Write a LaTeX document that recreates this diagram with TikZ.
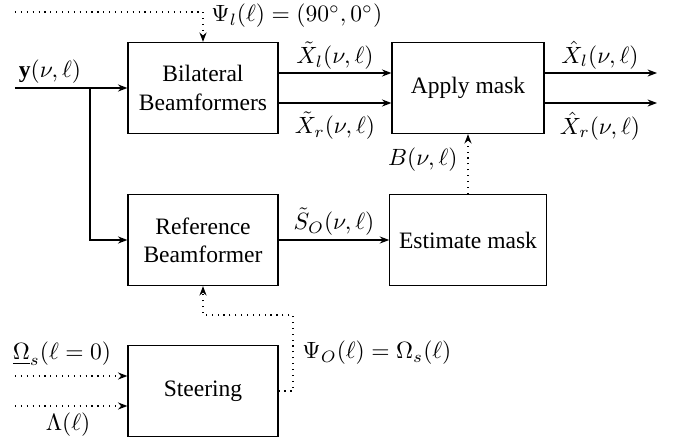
\documentclass[tikz,border=0pt]{standalone}
\usepackage{fontspec}
\setmainfont{Liberation Serif}
\usetikzlibrary{arrows.meta,calc}
\begin{document}
\begin{tikzpicture}[x=0.425pt,y=-0.425pt,
  blk/.style={draw, line width=0.5pt, align=center, inner sep=0pt, minimum width=63.75pt, minimum height=38.7pt},
  >={Stealth[length=4pt,width=3pt]},
  sig/.style={->, line width=0.5pt},
  ctl/.style={->, dotted, line width=0.5pt},
  thk/.style={->, line width=1pt},
  lbl/.style={inner sep=0pt}]
\useasboundingbox (0,0) rectangle (678,445);
% blocks
\node[blk] (bil) at (203,88) {Bilateral\\Beamformers};
\node[blk, minimum width=64.6pt] (app) at (468,88) {Apply mask};
\node[blk] (ref) at (203,240) {Reference\\Beamformer};
\node[blk, minimum width=66.5pt] (est) at (468,240) {Estimate mask};
\node[blk] (ste) at (203,391) {Steering};
% coordinates
\coordinate (psil) at (15,12);
\coordinate (yin) at (15,88);
\coordinate (br) at (90,88);
\coordinate (outl) at (657,73);
\coordinate (outr) at (657,103);
\coordinate (om) at (15,376);
\coordinate (la) at (15,406);
\coordinate (psio) at (293,315);
% connectors
\draw[ctl] (psil) -- (bil.north |- psil) -- (bil.north);
\draw[thk] (yin) -- (bil.west);
\draw[thk] (br) |- (ref.west);
\draw[sig] ($(bil.east)+(0,-15)$) -- ($(app.west)+(0,-15)$);
\draw[sig] ($(bil.east)+(0,15)$) -- ($(app.west)+(0,15)$);
\draw[sig] ($(app.east)+(0,-15)$) -- (outl);
\draw[sig] ($(app.east)+(0,15)$) -- (outr);
\draw[ctl] (est.north) -- (app.south);
\draw[sig] (ref.east) -- (est.west);
\draw[ctl] (om) -- (om -| ste.west);
\draw[ctl] (la) -- (la -| ste.west);
\draw[ctl] (ste.east) -| (psio) -| (ref.south);
% labels
\node[lbl, anchor=west] (tpsil) at (211,16) {$\Psi_l(\ell) = (90^\circ, 0^\circ)$};
\node[lbl] (ty) at (50,72) {$\mathbf{y}(\nu,\ell)$};
\node[lbl] (txl) at (335,56) {$\tilde{X}_l(\nu,\ell)$};
\node[lbl] (txr) at (335,126) {$\tilde{X}_r(\nu,\ell)$};
\node[lbl] (hxl) at (600,55) {$\hat{X}_l(\nu,\ell)$};
\node[lbl] (hxr) at (600,126) {$\hat{X}_r(\nu,\ell)$};
\node[lbl, anchor=east] (tb) at (458,160) {$B(\nu,\ell)$};
\node[lbl] (tso) at (334,222) {$\tilde{S}_O(\nu,\ell)$};
\node[lbl, anchor=west] (tpsio) at (302,353) {$\Psi_O(\ell) = \Omega_s(\ell)$};
\node[lbl] (tom) at (62,354) {$\underline{\Omega}_s(\ell=0)$};
\node[lbl] (tla) at (68,425) {$\Lambda(\ell)$};
\end{tikzpicture}
\end{document}
